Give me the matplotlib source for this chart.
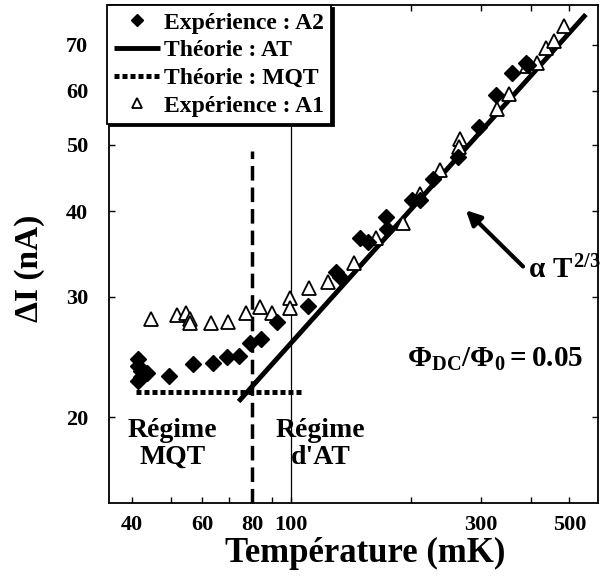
import matplotlib
matplotlib.use("Agg")
import matplotlib.pyplot as plt
from matplotlib.ticker import FixedLocator, FixedFormatter, NullLocator, NullFormatter

plt.rcParams['font.family'] = ['Liberation Serif', 'DejaVu Serif']
plt.rcParams['font.weight'] = 'bold'
plt.rcParams['mathtext.fontset'] = 'custom'
plt.rcParams['mathtext.rm'] = 'Liberation Serif:bold'
plt.rcParams['mathtext.it'] = 'Liberation Serif:bold'
plt.rcParams['mathtext.bf'] = 'Liberation Serif:bold'

# Experience A2 (filled diamonds)
a2_T = [41.5, 41.5, 42.0, 43.5, 42.0, 41.5, 49.6, 56.9, 64.0, 69.1, 74.0, 79.1, 84.3,
        92.5, 110.4, 130, 133, 149, 156, 173, 174, 201, 211, 227, 263, 297, 327, 360, 390, 393]
a2_I = [24.3, 23.8, 23.4, 23.2, 22.9, 22.6, 23.0, 23.9, 24.0, 24.5, 24.6, 25.7, 26.0,
        27.6, 29.1, 32.6, 32.1, 36.5, 36.1, 39.2, 37.7, 41.5, 41.5, 44.5, 48.0, 53.0, 59.1, 63.6, 65.9, 65.3]

# Experience A1 (open triangles)
a1_T = [44.7, 51.7, 54.6, 55.9, 56.0, 63.2, 69.5, 77.3, 83.6, 89.5, 99.7, 99.7, 111,
        124, 144, 164, 191, 211, 237, 266, 265, 329, 352, 391, 415, 437, 458, 486]
a1_I = [27.8, 28.2, 28.4, 27.8, 27.5, 27.5, 27.6, 28.4, 29.0, 28.4, 29.9, 28.9, 30.9,
        31.5, 33.6, 36.5, 38.4, 42.4, 45.9, 51.0, 49.6, 56.4, 59.3, 65.2, 65.9, 69.2, 70.9, 74.6]

# Theory AT (T^(2/3) line, endpoints)
at_T = [74.0, 550.0]
at_I = [21.1, 77.5]

# Theory MQT (flat)
mqt_T = [41.0, 107.0]
mqt_I = [21.8, 21.8]

# crossover lines
cross_T = 80
cross_I = [15, 49]
at_border_T = 100

x_major = [40, 60, 80, 100, 300, 500]
x_minor = [50, 70, 90, 200, 400]
y_major = [20, 30, 40, 50, 60, 70]

fig = plt.figure(figsize=(6.0, 5.78), dpi=100)
ax = fig.add_axes([109/600, 75/578, 489/600, 498/578])
ax.set_xscale('log')
ax.set_yscale('log')
ax.set_xlim(35, 590)
ax.set_ylim(15, 80)

ax.plot(at_T, at_I, color='black', lw=3.5, solid_capstyle='butt', label='Théorie : AT', zorder=3)
ax.plot(mqt_T, mqt_I, color='black', lw=3.6, linestyle=(0, (1.0, 0.6)), label='Théorie : MQT', zorder=3)
ax.plot([cross_T, cross_T], cross_I, color='black', lw=2.5, linestyle=(0, (4.2, 2.0)), zorder=3)
ax.axvline(at_border_T, color='black', lw=0.9, zorder=2)

ax.plot(a1_T, a1_I, linestyle='none', marker='^', markersize=10, markerfacecolor='white',
        markeredgecolor='black', markeredgewidth=1.3, label='Expérience : A1', zorder=4)
ax.plot(a2_T, a2_I, linestyle='none', marker='D', markersize=8.5, color='black',
        label='Expérience : A2', zorder=5)

ax.xaxis.set_major_locator(FixedLocator(x_major))
ax.xaxis.set_major_formatter(FixedFormatter([str(v) for v in x_major]))
ax.xaxis.set_minor_locator(FixedLocator(x_minor))
ax.xaxis.set_minor_formatter(NullFormatter())
ax.yaxis.set_major_locator(FixedLocator(y_major))
ax.yaxis.set_major_formatter(FixedFormatter([str(v) for v in y_major]))
ax.yaxis.set_minor_locator(NullLocator())

ax.tick_params(which='both', direction='in', top=True, right=True, length=4.5, width=1.0,
               labelsize=16)
ax.tick_params(axis='x', pad=9)
ax.tick_params(axis='y', pad=15)
for lab in ax.get_xticklabels() + ax.get_yticklabels():
    lab.set_fontweight('bold')
for s in ax.spines.values():
    s.set_linewidth(1.3)

ax.set_xlabel('Température (mK)', fontsize=25, fontweight='bold')
ax.set_ylabel('ΔI (nA)', fontsize=24, fontweight='bold')
ax.xaxis.set_label_coords(0.5235, -0.068)
ax.yaxis.set_label_coords(-0.131, 0.472)

ax.text(50.4, 18.3, 'Régime\nMQT', ha='center', va='center', fontsize=20, fontweight='bold',
        linespacing=1.08)
ax.text(119, 18.3, "Régime\nd'AT", ha='center', va='center', fontsize=20, fontweight='bold',
        linespacing=1.08)
ax.text(196, 24.3, r'$\Phi_{DC}/\Phi_0 = 0.05$', ha='left', va='center', fontsize=21)
ax.annotate('', xy=(272, 40.4), xytext=(387, 33.0),
            arrowprops=dict(arrowstyle='-|>', color='black', lw=3, mutation_scale=22))
ax.text(394, 32.8, r'$\alpha\ T^{2/3}$', ha='left', va='center', fontsize=21, clip_on=False)

handles, labels = ax.get_legend_handles_labels()
order = [labels.index(l) for l in ['Expérience : A2', 'Théorie : AT', 'Théorie : MQT', 'Expérience : A1']]
leg = ax.legend([handles[i] for i in order], [labels[i] for i in order],
                loc='upper left', bbox_to_anchor=(-0.004, 1.0), borderaxespad=0,
                fancybox=False, framealpha=1, edgecolor='black',
                prop={'weight': 'bold', 'size': 17}, handlelength=1.95, handletextpad=0.15,
                labelspacing=0.26, borderpad=0.3, markerscale=0.75,
                shadow={'facecolor': 'black', 'edgecolor': 'black', 'alpha': 1})
leg.get_frame().set_linewidth(1.3)
leg.set_zorder(10)

fig.savefig('out.png', dpi=100)
